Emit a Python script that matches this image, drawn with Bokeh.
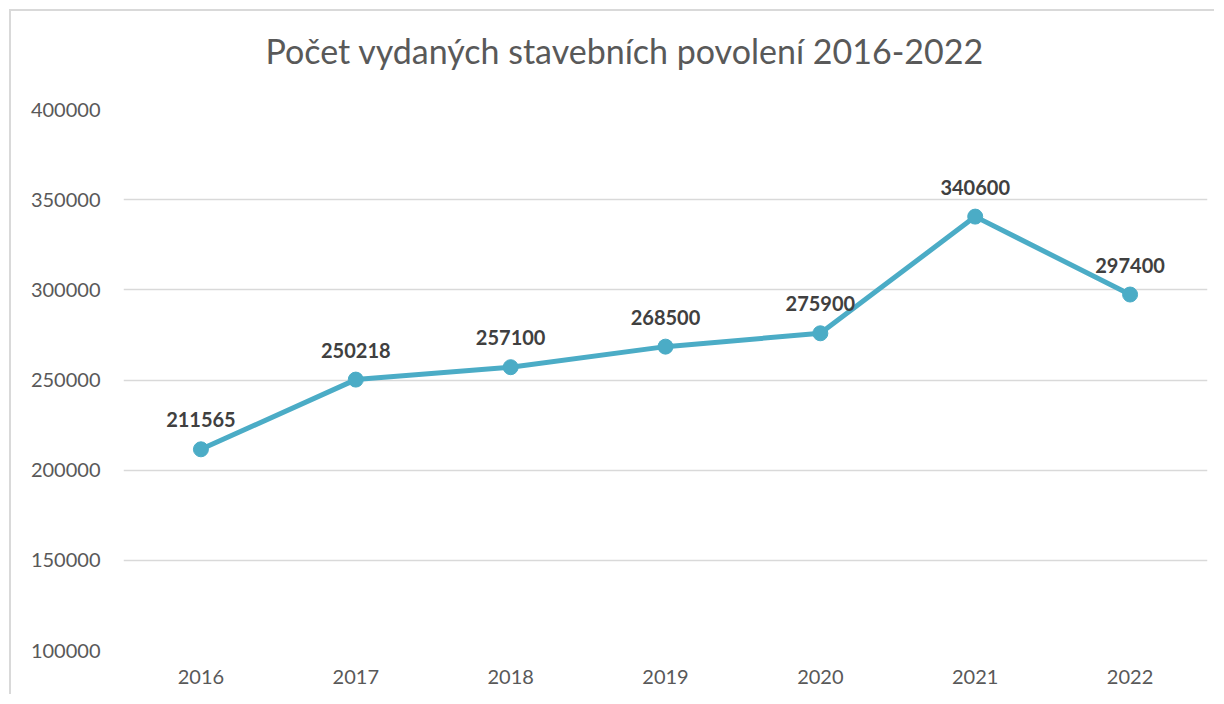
from bokeh.plotting import figure
from bokeh.models import ColumnDataSource, FactorRange, Range1d, FixedTicker, NumeralTickFormatter, LabelSet, Title
from bokeh.core.properties import value
from bokeh.embed import file_html
from bokeh.resources import INLINE

years = ["2016", "2017", "2018", "2019", "2020", "2021", "2022"]
permits = [211565, 250218, 257100, 268500, 275900, 340600, 297400]
labels = [str(v) for v in permits]
y_ticks = [100000, 150000, 200000, 250000, 300000, 350000, 400000]
title_text = "Počet vydaných stavebních povolení 2016-2022"

FONT = "Lato"
LINE_COLOR = "#4BACC6"

src = ColumnDataSource(dict(year=years, permits=permits, label=labels))

p = figure(
    x_range=FactorRange(*years, range_padding=0),
    y_range=Range1d(y_ticks[0], y_ticks[-1]),
    width=1205, height=685,
    output_backend="svg", toolbar_location=None,
    min_border_left=112, min_border_right=9,
    min_border_top=98, min_border_bottom=46,
)
p.margin = (9, 0, 0, 9)
p.styles = {"border-left": "2px solid #d9d9d9", "border-top": "2px solid #d9d9d9"}

p.title.text = title_text
p.title.align = "left"
p.title.offset = 142
p.title.vertical_align = "top"
p.title.standoff = 35
p.title.text_font = FONT
p.title.text_font_size = "34px"
p.title.text_font_style = "normal"
p.title.text_color = "#595959"

# invisible spacer between the title and the plot area
p.add_layout(Title(text=" ", text_font_size="2px", standoff=15), "above")

p.outline_line_color = None
p.background_fill_color = "white"
p.border_fill_color = "white"

p.xgrid.grid_line_color = None
p.ygrid.grid_line_color = "#d9d9d9"
p.ygrid.grid_line_width = 1.5
p.yaxis.ticker = FixedTicker(ticks=y_ticks)
p.yaxis.formatter = NumeralTickFormatter(format="0")

for ax in (p.xaxis, p.yaxis):
    ax.axis_line_color = None
    ax.major_tick_line_color = None
    ax.minor_tick_line_color = None
    ax.major_tick_out = 0
    ax.major_tick_in = 0
    ax.major_label_text_font = FONT
    ax.major_label_text_font_size = "20px"
    ax.major_label_text_color = "#595959"
p.yaxis.major_label_standoff = 23
p.xaxis.major_label_standoff = 19

p.line(x="year", y="permits", source=src, line_width=5, line_color=LINE_COLOR)
p.scatter(x="year", y="permits", source=src, size=15, fill_color=LINE_COLOR, line_color=LINE_COLOR)

p.add_layout(LabelSet(x="year", y="permits", text="label", source=src,
                      x_offset=0, y_offset=22, text_align="center", text_baseline="bottom",
                      text_font=value(FONT), text_font_size="20px", text_font_style="bold",
                      text_color="#404040"))

open("out.html", "w").write(file_html(p, INLINE))
